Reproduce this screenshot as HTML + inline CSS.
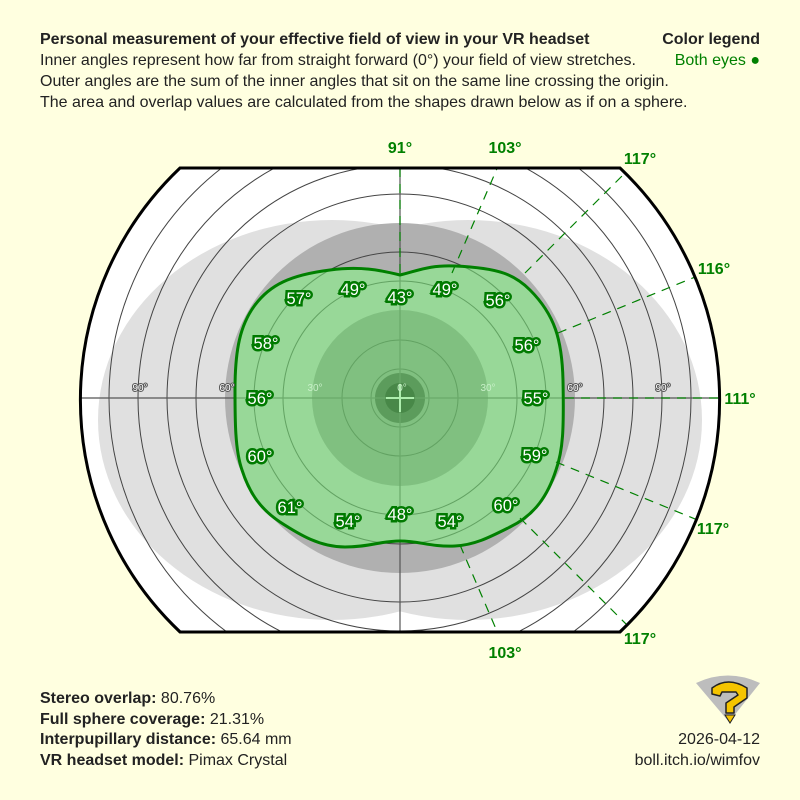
<!DOCTYPE html>
<html><head><meta charset="utf-8"><style>
html,body{margin:0;padding:0;background:#ffffe0;}
svg{display:block;font-family:"Liberation Sans",sans-serif;}
.t{font-size:16px;fill:#222;}
.b{font-weight:bold;}
.g{fill:#fff;stroke:#007a00;stroke-width:5;paint-order:stroke;stroke-linejoin:miter;font-size:16.5px;text-anchor:middle;}
.o{fill:#008000;font-weight:bold;font-size:16px;text-anchor:middle;}
.s{font-size:10px;text-anchor:middle;fill:#fff;stroke:#555;stroke-width:2;paint-order:stroke;}
</style></head><body>
<svg width="800" height="800" viewBox="0 0 800 800">
<defs>
<clipPath id="frame"><path d="M180,168 L620,168 A320,320 0 0 1 620,632 L180,632 A320,320 0 0 1 180,168 Z"/></clipPath>
</defs>
<rect width="800" height="800" fill="#ffffe0"/>
<text class="t b" x="40" y="44">Personal measurement of your effective field of view in your VR headset</text>
<text class="t" x="40" y="65">Inner angles represent how far from straight forward (0°) your field of view stretches.</text>
<text class="t" x="40" y="86">Outer angles are the sum of the inner angles that sit on the same line crossing the origin.</text>
<text class="t" x="40" y="107">The area and overlap values are calculated from the shapes drawn below as if on a sphere.</text>
<text class="t b" x="760" y="44" text-anchor="end">Color legend</text>
<text class="t" x="760" y="65" text-anchor="end" style="fill:#008000">Both eyes ●</text>

<g clip-path="url(#frame)">
<rect x="70" y="160" width="660" height="480" fill="#fff"/>
<ellipse cx="332" cy="420" rx="234" ry="200" fill="#e0e0e0"/>
<ellipse cx="468" cy="420" rx="234" ry="200" fill="#e0e0e0"/>
<circle cx="400" cy="398" r="175" fill="#b0b0b0"/>
<circle cx="400" cy="398" r="88" fill="#808080"/>
<circle cx="400" cy="398" r="25" fill="#383838"/>
<circle cx="400" cy="398" r="15" fill="#101010"/>
<g fill="none" stroke="#444" stroke-width="1">
<circle cx="400" cy="398" r="29"/><circle cx="400" cy="398" r="58"/><circle cx="400" cy="398" r="117"/><circle cx="400" cy="398" r="146"/>
<circle cx="400" cy="398" r="204"/><circle cx="400" cy="398" r="233"/><circle cx="400" cy="398" r="262"/><circle cx="400" cy="398" r="291"/><circle cx="400" cy="398" r="320"/><circle cx="400" cy="398" r="350"/><circle cx="400" cy="398" r="379"/>
</g>
<line x1="60" y1="398" x2="740" y2="398" stroke="#555" stroke-width="1.2"/>
<line x1="400" y1="150" x2="400" y2="650" stroke="#555" stroke-width="1.2"/>
<line x1="386" y1="398" x2="414" y2="398" stroke="#ddd" stroke-width="2"/>
<line x1="400" y1="384" x2="400" y2="412" stroke="#ddd" stroke-width="2"/>
<path d="M400,275 C420,270 430,265 455,266 C500,268 515,275 530,290 C555,315 562,340 563,380 C564,430 563,450 556,470 C548,495 535,515 510,527 C490,537 475,545 455,546 C430,547 420,541 400,541 C380,541 370,547 345,547 C320,547 300,535 280,522 C262,510 250,495 242,470 C235,450 235,420 235,390 C235,350 240,325 255,305 C270,285 290,275 330,270 C360,266 380,270 400,275 Z" fill="rgba(128,255,128,0.5)" stroke="#008000" stroke-width="3"/>
<g stroke="#008000" stroke-width="1.2" stroke-dasharray="9,7" fill="none">
<line x1="400" y1="273" x2="400" y2="160"/>
<line x1="452" y1="273" x2="505" y2="150"/>
<line x1="525" y1="273" x2="630" y2="168"/>
<line x1="558" y1="333" x2="700" y2="275"/>
<line x1="565" y1="398" x2="720" y2="398"/>
<line x1="556" y1="462" x2="700" y2="521"/>
<line x1="520" y1="518" x2="630" y2="628"/>
<line x1="460" y1="545" x2="505" y2="650"/>
</g>
</g>
<path d="M180,168 L620,168 A320,320 0 0 1 620,632 L180,632 A320,320 0 0 1 180,168 Z" fill="none" stroke="#000" stroke-width="3"/>
<text class="s" x="140" y="391">90°</text>
<text class="s" x="227" y="391">60°</text>
<text class="s" x="575" y="391">60°</text>
<text class="s" x="663" y="391">90°</text>
<text x="315" y="391" font-size="10" text-anchor="middle" fill="#c8f0c8">30°</text>
<text x="488" y="391" font-size="10" text-anchor="middle" fill="#c8f0c8">30°</text>
<text x="402" y="391" font-size="10" text-anchor="middle" fill="#c8f0c8">0°</text>
<text class="g" x="299" y="304">57°</text>
<text class="g" x="353" y="295">49°</text>
<text class="g" x="400" y="303">43°</text>
<text class="g" x="445" y="295">49°</text>
<text class="g" x="498" y="306">56°</text>
<text class="g" x="266" y="349">58°</text>
<text class="g" x="527" y="351">56°</text>
<text class="g" x="260" y="404">56°</text>
<text class="g" x="536" y="404">55°</text>
<text class="g" x="260" y="462">60°</text>
<text class="g" x="535" y="461">59°</text>
<text class="g" x="290" y="513">61°</text>
<text class="g" x="348" y="527">54°</text>
<text class="g" x="400" y="520">48°</text>
<text class="g" x="450" y="527">54°</text>
<text class="g" x="506" y="511">60°</text>
<text class="o" x="400" y="153">91°</text>
<text class="o" x="505" y="153">103°</text>
<text class="o" x="640" y="164">117°</text>
<text class="o" x="714" y="274">116°</text>
<text class="o" x="740" y="404">111°</text>
<text class="o" x="713" y="534">117°</text>
<text class="o" x="640" y="644">117°</text>
<text class="o" x="505" y="658">103°</text>

<text class="t" x="40" y="703"><tspan class="b">Stereo overlap:</tspan> 80.76%</text>
<text class="t" x="40" y="724"><tspan class="b">Full sphere coverage:</tspan> 21.31%</text>
<text class="t" x="40" y="744"><tspan class="b">Interpupillary distance:</tspan> 65.64 mm</text>
<text class="t" x="40" y="765"><tspan class="b">VR headset model:</tspan> Pimax Crystal</text>
<text class="t" x="760" y="744" text-anchor="end">2026-04-12</text>
<text class="t" x="760" y="765" text-anchor="end">boll.itch.io/wimfov</text>

<path d="M696,683 Q728,668 760,683 L729,722 Z" fill="#bdbdbd"/>
<path d="M712,688 Q728,676 747,688 L747,698 L734,707 L734,713 L726,713 L726,703 L738,695 L736,692 L722,692 L720,696 L712,694 Z" fill="#f5c400" stroke="#222" stroke-width="1.5" stroke-linejoin="round"/>
<path d="M725,715 L735,715 L730,723 Z" fill="#f5c400" stroke="#222" stroke-width="1"/>
</svg>
</body></html>
